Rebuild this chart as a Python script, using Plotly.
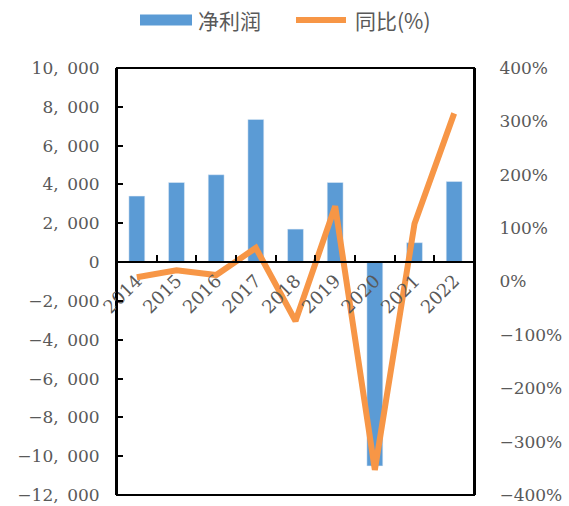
import plotly.graph_objects as go

# Annual net profit (bars, left axis) and YoY growth (line, right axis)
years = ["2014", "2015", "2016", "2017", "2018", "2019", "2020", "2021", "2022"]
net_profit = [3400, 4100, 4500, 7350, 1700, 4100, -10500, 1000, 4150]
yoy_pct = [8, 21, 12, 63, -74, 141, -353, 108, 315]

left_ticks = [10000, 8000, 6000, 4000, 2000, 0, -2000, -4000, -6000, -8000, -10000, -12000]
left_labels = ["10,\u2002000", "8,\u2002000", "6,\u2002000", "4,\u2002000", "2,\u2002000", "0",
               "\u22122,\u2002000", "\u22124,\u2002000", "\u22126,\u2002000", "\u22128,\u2002000",
               "\u221210,\u2002000", "\u221212,\u2002000"]
right_ticks = [400, 300, 200, 100, 0, -100, -200, -300, -400]
right_labels = ["400%", "300%", "200%", "100%", "0%", "\u2212100%", "\u2212200%", "\u2212300%", "\u2212400%"]

series_names = ["净利润", "同比(%)"]

BLUE = "#5B9BD5"
ORANGE = "#F79646"
GREY = "#595959"
SERIF = "DejaVu Serif"
Y_FONT = dict(family=SERIF, size=17, color=GREY)
X_FONT = dict(family=SERIF, size=18, color=GREY)
LEGEND_FONT = dict(family="Noto Sans CJK SC", size=21, color=GREY)

fig = go.Figure()

fig.add_trace(go.Bar(x=years, y=net_profit, marker_color=BLUE, name=series_names[0],
                     showlegend=False, yaxis="y"))
fig.add_trace(go.Scatter(x=years, y=yoy_pct, mode="lines", name=series_names[1],
                         line=dict(color=ORANGE, width=6), yaxis="y2", showlegend=False))

# legend row above the plot: wide keys followed by the series names
shapes = [
    dict(type="rect", xref="paper", yref="paper", x0=0, x1=1, y0=0, y1=1,
         line=dict(color="black", width=2), layer="above"),
    dict(type="rect", xref="paper", yref="paper",
         x0=(140 - 117) / 357, x1=(192 - 117) / 357,
         y0=1 + (68 - 25.5) / 427, y1=1 + (68 - 14.5) / 427,
         fillcolor=BLUE, line=dict(width=0)),
    dict(type="line", xref="paper", yref="paper",
         x0=(296 - 117) / 357, x1=(346 - 117) / 357,
         y0=1 + (68 - 20) / 427, y1=1 + (68 - 20) / 427,
         line=dict(color=ORANGE, width=6)),
]
annotations = [
    dict(text=series_names[0], xref="paper", yref="paper",
         x=(196 - 117) / 357, y=1 + (68 - 20) / 427, xanchor="left", yanchor="middle",
         showarrow=False, font=LEGEND_FONT),
    dict(text=series_names[1], xref="paper", yref="paper",
         x=(353 - 117) / 357, y=1 + (68 - 20) / 427, xanchor="left", yanchor="middle",
         showarrow=False, font=LEGEND_FONT),
]

fig.update_layout(
    width=569, height=506,
    margin=dict(l=117, r=95, t=68, b=11, autoexpand=False),
    paper_bgcolor="white", plot_bgcolor="white",
    bargap=0.6,
    showlegend=False,
    xaxis=dict(type="category", range=[-0.5, 8.5], anchor="free", position=12 / 22,
               showline=True, linecolor="black", linewidth=2,
               ticks="inside", ticklen=6, tickwidth=2, tickcolor="black",
               tickson="boundaries", tickangle=-45, tickfont=X_FONT,
               showgrid=False, zeroline=False, automargin=False),
    yaxis=dict(range=[-12000, 10000], tickvals=left_ticks, ticktext=left_labels,
               showline=True, linecolor="black", linewidth=2,
               ticks="inside", ticklen=6, tickwidth=2, tickcolor="black",
               tickfont=Y_FONT, ticklabelstandoff=12,
               showgrid=False, zeroline=False, automargin=False),
    yaxis2=dict(range=[-400, 400], tickvals=right_ticks, ticktext=right_labels,
                overlaying="y", side="right", anchor="x",
                showline=True, linecolor="black", linewidth=2,
                ticks="", tickfont=Y_FONT, ticklabelstandoff=20,
                showgrid=False, zeroline=False, automargin=False),
    shapes=shapes,
    annotations=annotations,
)

fig.write_html("out.html")
